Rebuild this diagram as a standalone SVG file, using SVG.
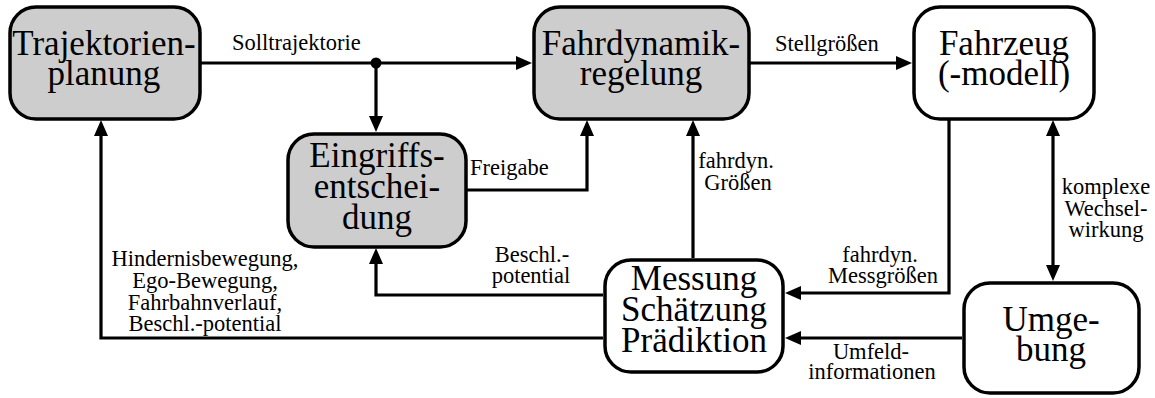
<svg xmlns="http://www.w3.org/2000/svg" width="1155" height="398" viewBox="0 0 1155 398">
  <style>
    .box { stroke: #000; stroke-width: 3.5; }
    .grey { fill: #cdcdcd; }
    .white { fill: #ffffff; }
    .big { font-size: 35px; text-anchor: middle; }
    .lbl { font-size: 22.5px; }
    .mid { text-anchor: middle; }
    .wire { fill: none; stroke: #000; stroke-width: 3.2; stroke-linejoin: miter; }
  </style>
  <defs>
    <marker id="arrow" markerUnits="userSpaceOnUse" markerWidth="18" markerHeight="16" refX="0" refY="0" viewBox="0 -8 18 16" orient="auto-start-reverse">
      <path d="M0,-7 L16,0 L0,7 z" fill="#000"/>
    </marker>
  </defs>

  <rect width="1155" height="398" fill="#fff"/>

  <!-- connectors and their labels -->
  <g id="connectors" font-family="Liberation Serif, Times New Roman, DejaVu Serif, serif" fill="#000">
    <path class="wire" d="M201,63 H516" marker-end="url(#arrow)"/>
    <path class="wire" d="M376,63 V116" marker-end="url(#arrow)"/>
    <circle cx="376" cy="63" r="5.5" fill="#000"/>
    <path class="wire" d="M467,190 H587 V136" marker-end="url(#arrow)"/>
    <path class="wire" d="M750,63 H896" marker-end="url(#arrow)"/>
    <path class="wire" d="M949,120 V293 H801" marker-end="url(#arrow)"/>
    <path class="wire" d="M1053,136 V265" marker-start="url(#arrow)" marker-end="url(#arrow)"/>
    <path class="wire" d="M962,338 H801" marker-end="url(#arrow)"/>
    <path class="wire" d="M693,258 V136" marker-end="url(#arrow)"/>
    <path class="wire" d="M603,295 H376 V264" marker-end="url(#arrow)"/>
    <path class="wire" d="M603,338 H101 V136" marker-end="url(#arrow)"/>

    <text class="lbl" x="232" y="50">Solltrajektorie</text>
    <text class="lbl" x="775" y="51">Stellgrößen</text>
    <text class="lbl" x="470" y="175">Freigabe</text>
    <text class="lbl mid" x="736" y="168">fahrdyn.</text>
    <text class="lbl mid" x="738" y="190">Größen</text>
    <text class="lbl mid" x="880" y="262">fahrdyn.</text>
    <text class="lbl mid" x="883" y="283">Messgrößen</text>
    <text class="lbl mid" x="1106" y="194">komplexe</text>
    <text class="lbl mid" x="1106" y="216">Wechsel-</text>
    <text class="lbl mid" x="1106" y="237">wirkung</text>
    <text class="lbl mid" x="871" y="359">Umfeld-</text>
    <text class="lbl mid" x="872" y="379">informationen</text>
    <text class="lbl mid" x="532" y="262">Beschl.-</text>
    <text class="lbl mid" x="531" y="283">potential</text>
    <text class="lbl mid" x="205" y="266">Hindernisbewegung,</text>
    <text class="lbl mid" x="205" y="288">Ego-Bewegung,</text>
    <text class="lbl mid" x="205" y="310">Fahrbahnverlauf,</text>
    <text class="lbl mid" x="205" y="331">Beschl.-potential</text>
  </g>

  <!-- nodes -->
  <g font-family="Liberation Serif, Times New Roman, DejaVu Serif, serif" fill="#000">
    <g id="trajektorienplanung">
      <rect class="box grey" x="10" y="7" width="190" height="112" rx="26"/>
      <text class="big" x="104" y="55">Trajektorien-</text>
      <text class="big" x="104" y="85">planung</text>
    </g>
    <g id="fahrdynamikregelung">
      <rect class="box grey" x="534" y="7" width="215" height="112" rx="26"/>
      <text class="big" x="641" y="55">Fahrdynamik-</text>
      <text class="big" x="641" y="85">regelung</text>
    </g>
    <g id="fahrzeug">
      <rect class="box white" x="914" y="7" width="180" height="112" rx="26"/>
      <text class="big" x="1004" y="55">Fahrzeug</text>
      <text class="big" x="1004" y="85">(-modell)</text>
    </g>
    <g id="eingriffsentscheidung">
      <rect class="box grey" x="288" y="134" width="178" height="113" rx="26"/>
      <text class="big" x="377" y="167">Eingriffs-</text>
      <text class="big" x="377" y="198">entschei-</text>
      <text class="big" x="377" y="229">dung</text>
    </g>
    <g id="messung">
      <rect class="box white" x="605" y="260" width="178" height="112" rx="26"/>
      <text class="big" x="694" y="290">Messung</text>
      <text class="big" x="694" y="321">Schätzung</text>
      <text class="big" x="694" y="352">Prädiktion</text>
    </g>
    <g id="umgebung">
      <rect class="box white" x="964" y="283" width="175" height="110" rx="26"/>
      <text class="big" x="1051" y="331">Umge-</text>
      <text class="big" x="1051" y="361">bung</text>
    </g>
  </g>
</svg>
